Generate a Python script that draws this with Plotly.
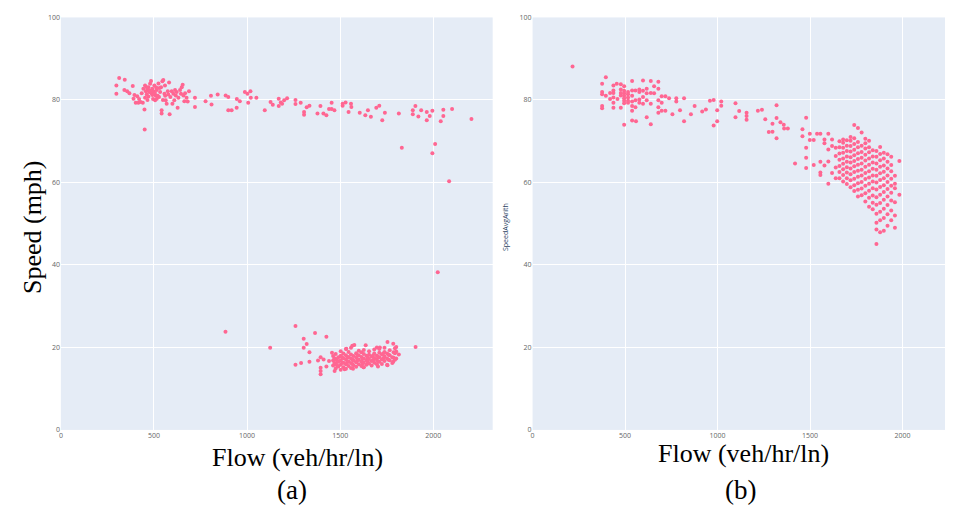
import plotly.graph_objects as go

# ---------------- Panel (a): Flow vs Speed ----------------
a_free = [
    (298, 83.5), (298, 81.5), (313, 85.3), (343, 84.9), (341, 82.4), (356, 82.1), (368, 81.6),
    (386, 83.4), (390, 80.3), (402, 79.3), (416, 79.3), (450, 72.8), (449, 77.7),
    (434, 81.6), (443, 82.7), (452, 83.5), (456, 82.1), (461, 81.3), (466, 82.4), (470, 83.1),
    (474, 81.9), (479, 83.9), (484, 84.6), (488, 81.5), (491, 82.7), (497, 82.1), (502, 83.5),
    (506, 79.9), (509, 81.1), (515, 82.4), (524, 84.0), (527, 80.7), (533, 81.9), (538, 83.1),
    (541, 77.5), (541, 76.7), (545, 84.5), (550, 84.8), (556, 81.5), (559, 83.5), (563, 79.9),
    (568, 79.1), (574, 82.1), (577, 81.3), (581, 84.2), (584, 76.5), (588, 80.7), (595, 82.1),
    (599, 79.1), (604, 81.5), (609, 79.9), (613, 82.4), (617, 81.1), (622, 81.9), (627, 78.1),
    (631, 80.5), (640, 82.4), (645, 81.5), (649, 83.1), (654, 83.7), (658, 81.1), (663, 79.7),
    (667, 81.6), (675, 80.5), (681, 79.6), (688, 82.1), (720, 80.5), (720, 78.3), (777, 79.7),
    (806, 81.0), (809, 78.9), (842, 81.3), (885, 81.1), (899, 80.7), (899, 77.5),
    (470, 80.8), (482, 81.9), (495, 80.2), (505, 81.7), (515, 80.3), (520, 81.0), (530, 82.9),
    (548, 80.0), (560, 81.0), (465, 80.0), (452, 80.5), (440, 79.3), (428, 79.5), (420, 80.2),
    (410, 80.9), (395, 81.2), (478, 82.3), (492, 81.2), (512, 83.0), (462, 83.0),
    (917, 77.5), (944, 78.1), (945, 80.2), (961, 79.7), (988, 81.9), (1002, 81.5), (1006, 79.3),
    (1018, 82.1), (1020, 80.5), (1050, 80.5), (1095, 77.5), (1126, 79.5), (1138, 78.8),
    (1170, 80.3), (1170, 78.5), (1181, 79.4), (1188, 79.1), (1199, 79.9), (1215, 80.4),
    (1260, 80.0), (1260, 79.0), (1288, 79.3), (1306, 77.1), (1306, 76.4), (1320, 78.2),
    (1335, 78.6), (1378, 76.7), (1394, 78.5), (1410, 76.7), (1426, 76.3), (1440, 77.8),
    (1454, 79.3), (1454, 77.8), (1469, 77.5), (1513, 79.1), (1513, 78.6), (1529, 79.4),
    (1545, 77.1), (1558, 79.1), (1560, 78.3), (1605, 76.9),
    (1635, 76.3), (1649, 77.5), (1665, 75.9), (1694, 78.1), (1710, 78.6), (1726, 75.1),
    (1740, 76.9), (1815, 76.7), (1831, 68.4), (1890, 77.5), (1890, 76.5), (1904, 78.5),
    (1920, 76.0), (1935, 77.5), (1965, 77.1), (1965, 75.1), (1981, 76.1), (1995, 77.4),
    (1995, 67.1), (2010, 69.3), (2040, 74.8), (2054, 77.6), (2054, 76.1), (2085, 60.3),
    (2101, 77.8), (2205, 75.4), (2024, 38.2),
]

a_cong_scatter = [
    (884, 23.8), (1124, 19.9), (1260, 25.2), (1304, 22.1), (1320, 20.8), (1304, 19.9),
    (1365, 23.5), (1426, 22.6), (1335, 18.8), (1260, 15.8), (1290, 16.2), (1335, 16.5),
    (1381, 16.8), (1395, 15.1), (1395, 14.3), (1395, 13.5), (1395, 17.6), (1411, 17.1),
    (1426, 15.4), (1440, 16.7), (1456, 18.7), (1905, 20.1), (1533, 19.7), (1565, 20.4),
    (1576, 20.6), (1637, 20.5), (1697, 20.0), (1713, 20.0), (1754, 21.3), (1785, 20.9),
    (1801, 20.1), (1801, 19.0), (1815, 18.3), (1801, 17.3), (1785, 16.5), (1754, 15.7),
    (1703, 15.4), (1625, 15.2), (1569, 14.8), (1524, 14.7), (1470, 14.3),
]

a_dense_flows = [1462, 1469, 1476, 1483, 1490, 1503, 1510, 1517, 1531, 1538, 1545, 1558, 1565,
                 1572, 1586, 1593, 1600, 1614, 1620, 1627, 1641, 1648, 1655, 1669, 1676, 1683,
                 1697, 1703, 1710, 1724, 1731, 1738, 1752, 1759, 1766, 1780, 1787, 1794]
a_dense_speeds = [
    [15.6, 16.8, 17.9], [16.2, 17.4], [14.9, 16.1, 17.2, 18.4], [15.7, 16.9], [15.4, 16.5, 17.6],
    [14.6, 15.8, 16.9, 18.0, 19.1], [16.3, 17.6], [15.2, 16.3, 17.4, 18.5],
    [14.8, 15.9, 17.0, 18.1, 19.6], [16.4, 17.5], [15.5, 16.6, 17.7, 18.9],
    [15.0, 16.2, 17.3, 18.3, 19.9], [16.0, 17.1], [15.7, 16.8, 17.9], [15.3, 16.4, 17.5, 18.6],
    [16.9, 18.0], [15.9, 17.0, 18.1, 19.2], [15.5, 16.6, 17.7, 18.8], [16.1, 17.2],
    [15.2, 16.3, 17.3, 18.4, 19.4], [15.8, 16.9, 18.0], [16.5, 17.5], [16.1, 17.2, 18.2, 19.1],
    [15.6, 16.7, 17.8], [16.9, 18.0], [16.3, 17.4, 18.5, 19.5], [15.9, 17.0, 18.0],
    [16.6, 17.7], [16.5, 17.6, 18.7, 19.6], [16.0, 17.1, 18.3], [17.3, 18.5],
    [16.7, 17.8, 18.9, 19.9], [15.8, 17.3, 18.5], [17.0, 18.2], [16.9, 18.1, 19.3],
    [16.2, 17.6], [17.5, 18.8], [17.0, 18.6, 19.8],
]

# ---------------- Panel (b): Flow vs SpeedAvgArith ----------------
b_sparse = [
    (216, 88.1), (396, 85.5), (376, 83.9), (376, 81.9), (376, 81.4), (376, 78.5), (376, 78.0),
    (396, 81.0), (419, 81.7), (419, 80.2), (437, 83.5), (437, 82.3), (437, 81.7), (437, 80.6),
    (437, 79.3), (437, 78.1), (455, 83.9), (459, 80.2), (477, 83.8), (477, 82.5), (477, 81.7),
    (477, 81.1), (477, 78.1), (495, 83.3), (495, 82.2), (495, 81.6), (495, 81.0), (495, 80.4),
    (495, 79.8), (495, 79.2), (495, 74.0), (516, 81.9), (516, 81.4), (516, 80.6), (516, 79.8),
    (516, 79.3), (538, 84.6), (538, 82.3), (538, 81.0), (538, 79.6), (538, 78.5), (538, 77.4),
    (538, 75.0), (556, 82.3), (556, 79.9), (556, 78.2), (559, 74.8), (577, 82.5), (577, 80.1),
    (577, 79.3), (577, 81.9), (597, 84.7), (597, 82.2), (597, 80.7), (597, 79.1), (617, 82.7),
    (617, 81.6), (617, 79.9), (617, 75.8), (639, 84.6), (639, 81.7), (639, 79.1), (639, 74.1),
    (657, 83.3), (657, 81.6), (680, 84.4), (680, 82.7), (680, 79.9), (680, 78.2), (680, 76.9),
    (698, 80.9), (698, 79.3), (698, 77.4), (718, 80.9), (718, 77.4), (738, 80.4), (756, 76.5),
    (777, 80.4), (777, 79.6), (797, 77.5), (819, 80.4), (819, 74.8), (856, 76.5), (876, 78.5),
    (917, 77.2), (937, 77.7), (959, 79.8), (979, 80.0), (979, 73.8), (998, 77.5), (998, 74.8),
    (1020, 79.6), (1020, 78.6), (1097, 79.2), (1097, 75.8), (1117, 77.3), (1157, 76.9),
    (1157, 76.1), (1157, 75.2), (1218, 77.4), (1240, 77.6), (1258, 75.3), (1277, 72.2),
    (1297, 74.2), (1297, 72.3), (1319, 78.7), (1319, 75.6), (1319, 70.7), (1340, 74.6),
    (1358, 74.0), (1360, 73.1), (1380, 73.1), (1419, 64.6), (1459, 72.9), (1459, 71.2),
    (1479, 75.7), (1479, 68.4), (1479, 66.0), (1479, 63.5), (1499, 71.8), (1499, 70.3),
    (1520, 70.3), (1520, 64.2), (1538, 71.8), (1556, 71.8), (1556, 65.0), (1556, 62.4),
    (1556, 61.8), (1578, 70.4), (1578, 69.5), (1578, 64.1), (1599, 71.8), (1599, 68.0),
    (1599, 65.1), (1599, 59.7), (1619, 70.4), (1619, 68.8), (1619, 62.3), (1639, 68.4),
    (1639, 66.4), (1639, 63.6), (1639, 61.0),
]

b_dense_flows = [1659, 1679, 1699, 1719, 1739, 1759, 1779, 1799, 1819, 1839, 1859, 1879, 1899,
                 1919, 1939, 1959, 1983]
b_dense_speeds = [
    [61.0, 62.5, 64.0, 65.5, 67.0, 68.5, 70.0],
    [60.2, 61.8, 63.2, 64.5, 65.8, 67.2, 68.4, 69.6, 70.4],
    [59.6, 61.0, 62.4, 63.7, 65.0, 66.3, 67.6, 68.9, 70.2],
    [58.8, 60.5, 62.0, 63.4, 64.8, 66.1, 67.5, 68.8, 70.1, 71.0],
    [57.9, 59.3, 60.9, 62.5, 63.9, 65.2, 66.6, 67.9, 69.3, 70.7, 73.9],
    [56.6, 58.2, 59.8, 61.4, 62.8, 64.3, 65.7, 67.1, 68.5, 69.8, 73.2],
    [56.9, 58.5, 60.1, 61.7, 63.1, 64.6, 66.0, 67.4, 68.9, 72.1],
    [55.4, 57.4, 59.2, 60.8, 62.3, 63.8, 65.3, 66.7, 68.2, 69.5, 70.6],
    [54.1, 56.3, 58.0, 59.7, 61.2, 62.7, 64.3, 65.8, 67.3, 68.5, 70.1],
    [53.5, 55.1, 56.8, 58.6, 60.2, 61.7, 63.3, 64.8, 66.3, 67.8],
    [45.1, 48.6, 50.2, 52.4, 54.6, 56.4, 58.3, 60.0, 61.6, 63.1, 64.6, 66.2, 67.6],
    [47.9, 50.8, 52.9, 55.0, 57.0, 58.9, 60.6, 62.2, 63.8, 65.4, 66.9, 68.6],
    [48.3, 51.4, 53.6, 55.8, 57.7, 59.3, 61.0, 62.6, 64.1, 65.8, 67.2],
    [49.5, 52.3, 54.5, 56.6, 58.4, 60.1, 61.7, 63.4, 65.0, 66.8],
    [50.8, 53.2, 55.6, 57.5, 59.2, 60.9, 62.7, 64.2, 66.2],
    [49.0, 52.0, 55.2, 58.6, 59.7, 61.6],
    [57.0, 65.2],
]

x_ticks = [0, 500, 1000, 1500, 2000]
y_ticks = [0, 20, 40, 60, 80, 100]

MARKER = dict(color="#FF6692", size=4)


def expand(flows, speeds):
    xs, ys = [], []
    for f, col in zip(flows, speeds):
        for s in col:
            xs.append(f)
            ys.append(s)
    return xs, ys


fig = go.Figure()


def add(xs, ys, xa, ya):
    fig.add_trace(go.Scatter(x=xs, y=ys, mode="markers", marker=MARKER,
                             xaxis=xa, yaxis=ya, showlegend=False))


add([p[0] for p in a_free], [p[1] for p in a_free], "x", "y")
add([p[0] for p in a_cong_scatter], [p[1] for p in a_cong_scatter], "x", "y")
ax, ay = expand(a_dense_flows, a_dense_speeds)
add(ax, ay, "x", "y")
add([p[0] for p in b_sparse], [p[1] for p in b_sparse], "x2", "y2")
bx, by = expand(b_dense_flows, b_dense_speeds)
add(bx, by, "x2", "y2")

# The page body has an 8px margin, so the figure is drawn 8px smaller and
# positions are computed relative to the reference window minus that offset.
OFF = 8
W, H = 953 - OFF, 512 - OFF


def fx(px):
    return (px - OFF) / W


def fy(py):
    return 1 - (py - OFF) / H


ydom = [fy(432.5), fy(12.5)]
tickfont = dict(size=7, color="#666666")
common_x = dict(tickvals=x_ticks, tickfont=tickfont, gridcolor="white", zeroline=False,
                showline=False, ticks="", ticklabeloverflow="allow")
common_y = dict(tickvals=y_ticks, tickfont=tickfont, gridcolor="white", zeroline=False,
                showline=False, ticks="", range=[0, 100], domain=ydom,
                ticklabeloverflow="allow")

fig.update_layout(
    template="plotly",
    width=W, height=H,
    margin=dict(l=0, r=0, t=0, b=0),
    paper_bgcolor="white",
    plot_bgcolor="#E5ECF6",
    xaxis=dict(domain=[fx(59), fx(491.7)], range=[0, 2319], anchor="y", **common_x),
    yaxis=dict(anchor="x", **common_y),
    xaxis2=dict(domain=[fx(531.7), 1.0], range=[0, 2273], anchor="y2", **common_x),
    yaxis2=dict(anchor="x2", **common_y),
)

serif = "Liberation Serif, Times New Roman, serif"


def ann(text, px, py, size, family=serif, angle=0, color="black"):
    fig.add_annotation(text=text, x=fx(px), y=fy(py), xref="paper", yref="paper",
                       showarrow=False, textangle=angle, borderpad=0,
                       font=dict(family=family, size=size, color=color),
                       xanchor="center", yanchor="middle")


ann("Speed (mph)", 30, 226, 26, angle=-90)
ann("Flow (veh/hr/ln)", 296, 461, 26)
ann("(a)", 291, 494, 27)
ann("Flow (veh/hr/ln)", 743, 457, 26)
ann("(b)", 740, 494, 27)
ann("SpeedAvgArith", 504, 226, 7, family="Open Sans, verdana, arial, sans-serif",
    angle=-90, color="#2a3f5f")

fig.write_html("out.html")
